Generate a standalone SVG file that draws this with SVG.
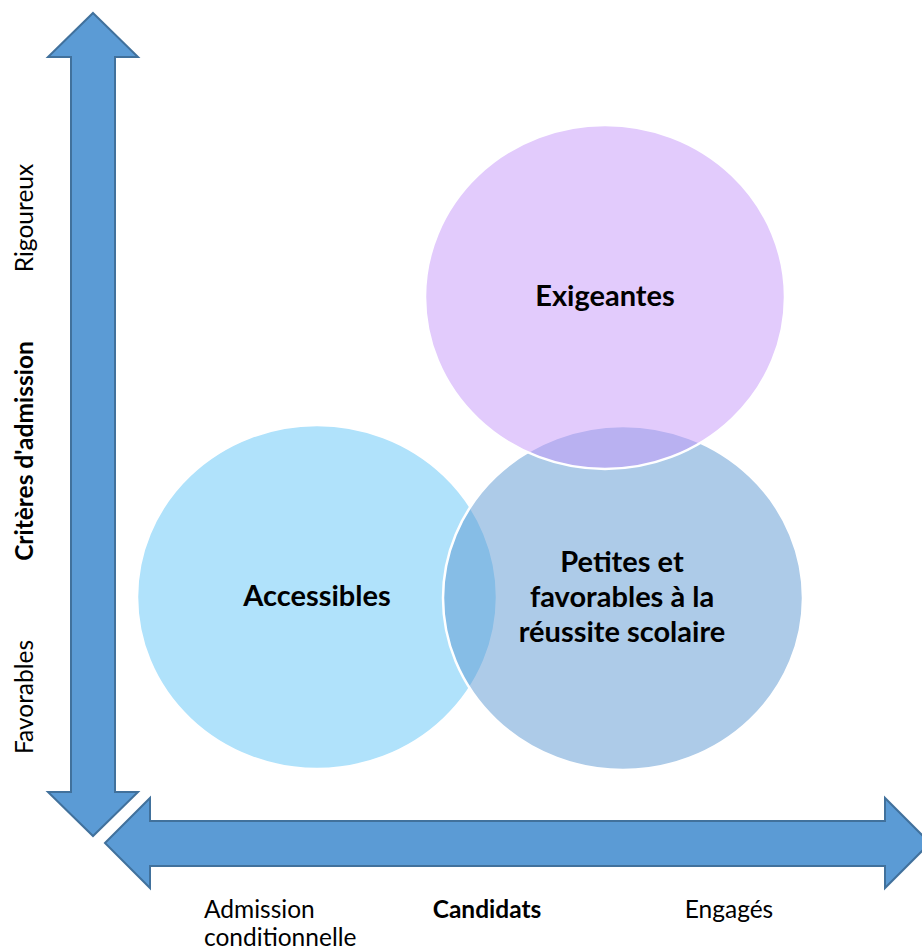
<svg xmlns="http://www.w3.org/2000/svg" width="922" height="951" viewBox="0 0 922 951">
  <style>
    .axis { fill: #5B9BD5; stroke: #41719C; stroke-width: 2; stroke-linejoin: miter; }
    .bubble { stroke: #FFFFFF; stroke-width: 2.5; }
    .lbl { font-family: Lato, "Liberation Sans", sans-serif; fill: #000000; }
    .axis-lbl { font-size: 24.5px; }
    .axis-title { font-size: 24.5px; font-weight: bold; }
    .bubble-lbl { font-size: 29px; font-weight: bold; text-anchor: middle; }
  </style>

  <!-- Axes: double-headed block arrows -->
  <g id="axes">
    <polygon id="axis-vertical" class="axis"
      points="93,13 138,57 115,57 115,792 138,792 93,836 48,792 71,792 71,57 48,57"/>
    <polygon id="axis-horizontal" class="axis"
      points="105,843 150,798 150,821 885,821 885,798 930,843 885,888 885,866 150,866 150,888"/>
  </g>

  <!-- Venn bubbles, 50% transparent so overlaps blend -->
  <g id="node-accessibles">
    <ellipse class="bubble" cx="317" cy="597" rx="180" ry="172" fill="#61C5F7" fill-opacity="0.5"/>
    <text class="lbl bubble-lbl" x="317" y="606">Accessibles</text>
  </g>
  <g id="node-petites">
    <ellipse class="bubble" cx="623" cy="598" rx="180" ry="172" fill="#5B97D1" fill-opacity="0.5"/>
    <text class="lbl bubble-lbl" x="622" y="572">Petites et</text>
    <text class="lbl bubble-lbl" x="622" y="607">favorables à la</text>
    <text class="lbl bubble-lbl" x="622" y="642">réussite scolaire</text>
  </g>
  <g id="node-exigeantes">
    <ellipse class="bubble" cx="605" cy="297" rx="180" ry="172" fill="#C597F9" fill-opacity="0.5"/>
    <text class="lbl bubble-lbl" x="605" y="306">Exigeantes</text>
  </g>

  <!-- Vertical axis labels -->
  <g id="labels-vertical">
    <text class="lbl axis-lbl" text-anchor="middle" transform="translate(33,218) rotate(-90)">Rigoureux</text>
    <text class="lbl axis-title" text-anchor="middle" transform="translate(33,451) rotate(-90)">Critères d'admission</text>
    <text class="lbl axis-lbl" text-anchor="middle" transform="translate(33,697) rotate(-90)">Favorables</text>
  </g>

  <!-- Horizontal axis labels -->
  <g id="labels-horizontal">
    <text class="lbl axis-lbl" x="204" y="918">Admission</text>
    <text class="lbl axis-lbl" x="204" y="946">conditionnelle</text>
    <text class="lbl axis-title" x="487" y="918" text-anchor="middle">Candidats</text>
    <text class="lbl axis-lbl" x="729" y="918" text-anchor="middle">Engagés</text>
  </g>
</svg>
